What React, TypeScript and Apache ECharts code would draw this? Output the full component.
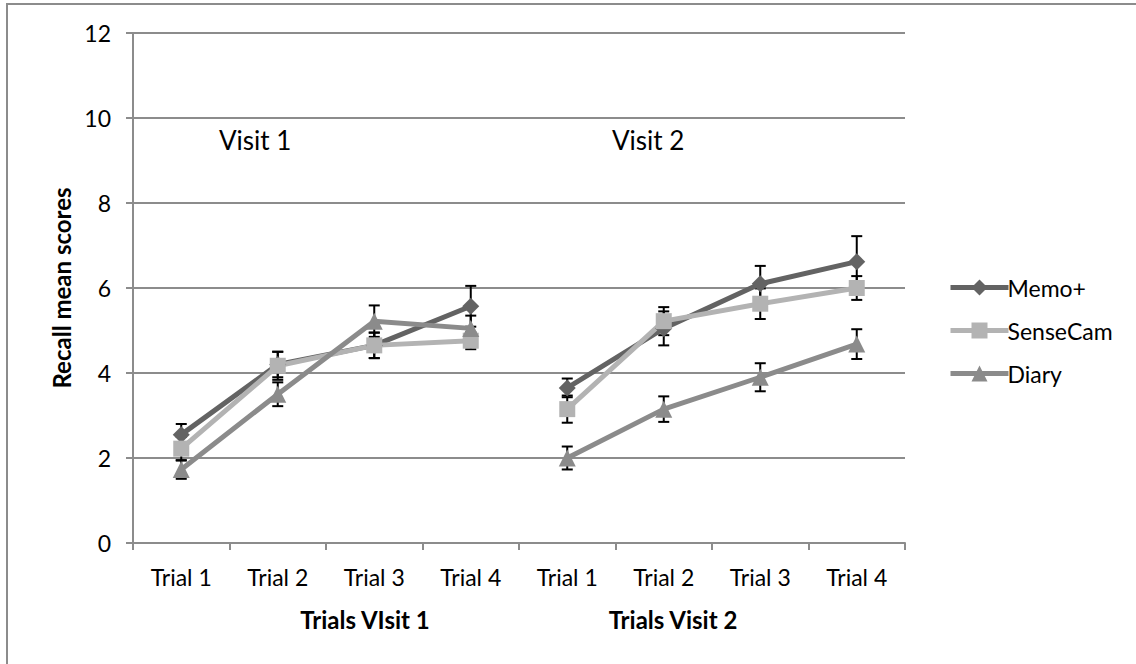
import React, { useEffect, useRef } from "react";
import * as echarts from "echarts";

const trials = ["Trial 1", "Trial 2", "Trial 3", "Trial 4"];
const seriesNames = ["Memo+", "SenseCam", "Diary"];

const memoV1 = [2.55, 4.2, 4.65, 5.57];
const memoV1Err = [0.25, 0.3, 0.3, 0.48];
const memoV2 = [3.65, 5.05, 6.1, 6.62];
const memoV2Err = [0.22, 0.4, 0.42, 0.6];

const senseV1 = [2.22, 4.17, 4.65, 4.76];
const senseV1Err = [0.28, 0.33, 0.3, 0.2];
const senseV2 = [3.15, 5.22, 5.63, 6.0];
const senseV2Err = [0.32, 0.33, 0.36, 0.28];

const diaryV1 = [1.73, 3.5, 5.22, 5.05];
const diaryV1Err = [0.22, 0.28, 0.37, 0.3];
const diaryV2 = [2.0, 3.15, 3.9, 4.68];
const diaryV2Err = [0.27, 0.3, 0.33, 0.35];

const visitLabels = ["Visit 1", "Visit 2"];
const groupTitles = ["Trials VIsit 1", "Trials Visit 2"];
const yTitle = "Recall mean scores";

const colors = ["#636363", "#b3b3b3", "#8b8b8b"];
const symbols = ["diamond", "rect", "triangle"];
const symbolSizes = [17, 16, 17];
const FONT = "Lato, 'Open Sans', sans-serif";

export default function App() {
  const ref = useRef<HTMLDivElement>(null);
  useEffect(() => {
    document.body.style.margin = "0";
    const chart = echarts.init(ref.current!, null, { renderer: "svg" });
    const categories = [...trials, ...trials];
    const groups = [
      [memoV1, memoV1Err, memoV2, memoV2Err],
      [senseV1, senseV1Err, senseV2, senseV2Err],
      [diaryV1, diaryV1Err, diaryV2, diaryV2Err],
    ];
    const series: any[] = [];
    groups.forEach((g, si) => {
      const [v1, e1, v2, e2] = g as number[][];
      const pad = trials.map(() => "-");
      const lineCommon = {
        type: "line",
        name: seriesNames[si],
        symbol: symbols[si],
        symbolSize: symbolSizes[si],
        showSymbol: true,
        color: colors[si],
        lineStyle: { width: 5, color: colors[si] },
        itemStyle: { color: colors[si] },
        z: 3,
      };
      series.push({ ...lineCommon, data: [...v1, ...pad] });
      series.push({ ...lineCommon, data: [...pad, ...v2] });
      const errData = [
        ...v1.map((v, i) => [i, v, e1[i]]),
        ...v2.map((v, i) => [i + trials.length, v, e2[i]]),
      ];
      series.push({
        type: "custom",
        name: "err" + si,
        z: 3,
        data: errData,
        encode: { x: 0, y: 1 },
        renderItem: (params: any, api: any) => {
          const x = api.value(0);
          const v = api.value(1);
          const e = api.value(2);
          const top = api.coord([x, v + e]);
          const bot = api.coord([x, v - e]);
          const hw = 5.5;
          const st = { stroke: "#000", lineWidth: 2 };
          return {
            type: "group",
            children: [
              { type: "line", shape: { x1: top[0], y1: top[1], x2: bot[0], y2: bot[1] }, style: st },
              { type: "line", shape: { x1: top[0] - hw, y1: top[1], x2: top[0] + hw, y2: top[1] }, style: st },
              { type: "line", shape: { x1: bot[0] - hw, y1: bot[1], x2: bot[0] + hw, y2: bot[1] }, style: st },
            ],
          };
        },
      });
    });

    chart.setOption({
      animation: false,
      backgroundColor: "#ffffff",
      textStyle: { fontFamily: FONT },
      grid: { left: 133, right: 231, top: 33, bottom: 121, containLabel: false },
      legend: {
        data: seriesNames,
        orient: "vertical",
        left: 943,
        top: 271,
        itemWidth: 58,
        itemHeight: 20,
        itemGap: 20,
        lineStyle: { width: 5 },
        textStyle: { fontSize: 23, color: "#000", fontFamily: FONT, padding: [0, 0, 0, -6] },
      },
      xAxis: {
        type: "category",
        data: categories,
        boundaryGap: true,
        axisLine: { lineStyle: { color: "#8c8c8c", width: 2 } },
        axisTick: { show: true, length: 7, inside: false, lineStyle: { color: "#8c8c8c", width: 2 } },
        axisLabel: { color: "#000", fontSize: 23, fontFamily: FONT, margin: 22, interval: 0 },
        splitLine: { show: false },
      },
      yAxis: {
        type: "value",
        min: 0,
        max: 12,
        interval: 2,
        name: yTitle,
        nameLocation: "middle",
        nameGap: 57,
        nameTextStyle: { fontSize: 24, fontWeight: "bold", color: "#000", fontFamily: FONT },
        axisLine: { show: true, lineStyle: { color: "#8c8c8c", width: 2 } },
        axisTick: { show: true, length: 7, lineStyle: { color: "#8c8c8c", width: 2 } },
        axisLabel: { color: "#000", fontSize: 23, fontFamily: FONT, margin: 22 },
        splitLine: { show: true, lineStyle: { color: "#8c8c8c", width: 2 } },
      },
      graphic: [
        {
          type: "rect",
          shape: { x: 7, y: 4, width: 1300, height: 800 },
          style: { fill: "none", stroke: "#8c8c8c", lineWidth: 2 },
          silent: true,
        },
        {
          type: "text",
          x: 219,
          y: 140,
          style: { text: visitLabels[0], fontSize: 26, fontFamily: FONT, fill: "#000", textVerticalAlign: "middle" },
        },
        {
          type: "text",
          x: 612,
          y: 140,
          style: { text: visitLabels[1], fontSize: 26, fontFamily: FONT, fill: "#000", textVerticalAlign: "middle" },
        },
        {
          type: "text",
          x: 365,
          y: 619,
          style: { text: groupTitles[0], fontSize: 24, fontWeight: "bold", fontFamily: FONT, fill: "#000", textAlign: "center", textVerticalAlign: "middle" },
        },
        {
          type: "text",
          x: 673,
          y: 619,
          style: { text: groupTitles[1], fontSize: 24, fontWeight: "bold", fontFamily: FONT, fill: "#000", textAlign: "center", textVerticalAlign: "middle" },
        },
      ],
      series,
    });
    return () => chart.dispose();
  }, []);
  return <div ref={ref} style={{ width: 1136, height: 664 }} />;
}
